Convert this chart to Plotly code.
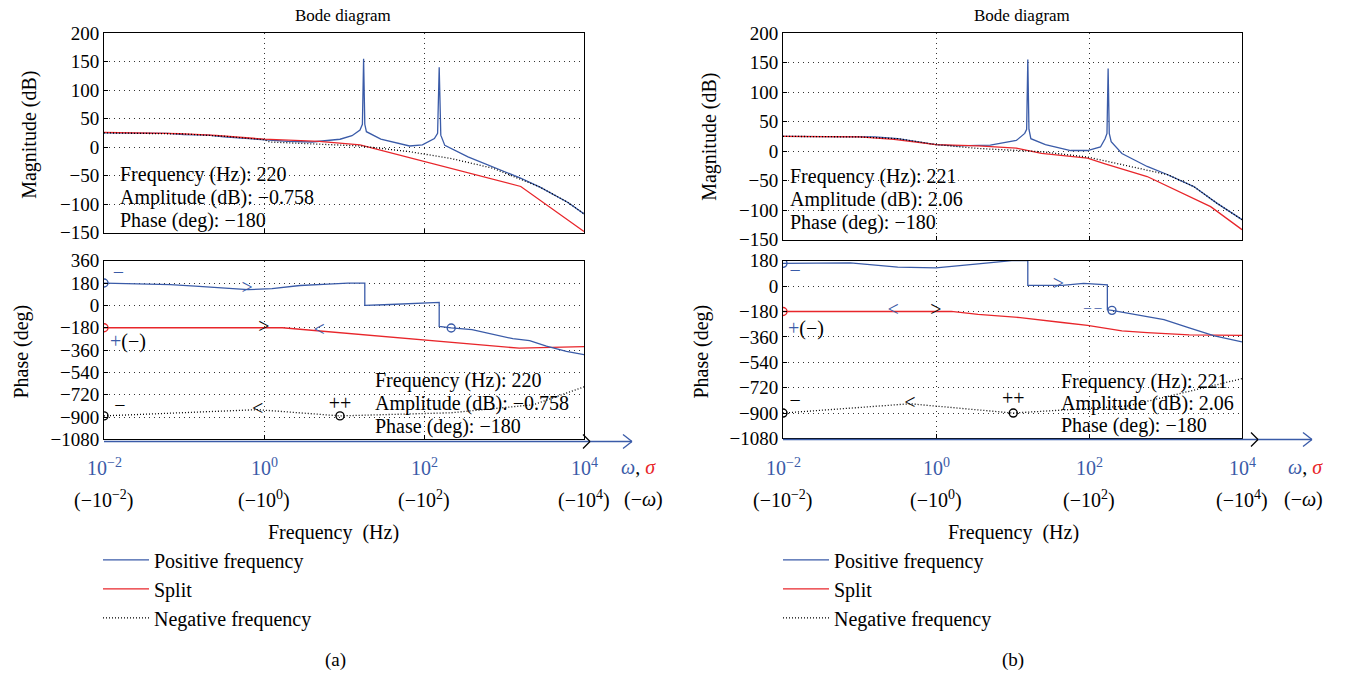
import plotly.graph_objects as go

W, H = 1348, 673
BLUE = "#3a5ba8"
RED = "#e8262b"
FONT = "Liberation Serif"

# ---------------- data (log10 of frequency, values) ----------------
# panel (a) magnitude
a_mag_pos_lf = [-2, -1.5, -1.2, -1.0, -0.7, -0.5, -0.2, 0, 0.3, 0.6, 0.95, 1.1, 1.2, 1.23, 1.245, 1.26, 1.28,
                1.46, 1.62, 1.82, 1.98, 2.13, 2.17, 2.19, 2.21, 2.26, 2.55, 2.85, 3.2, 3.45, 3.8, 4.0]
a_mag_pos = [25, 25, 24, 22, 21, 18, 15, 13, 10, 9, 13.8, 20, 30, 40, 155, 40, 27,
             14, 9, 2, 4, 15, 24, 140, 21, 3, -17, -34, -54, -70, -97, -117]
a_mag_split_lf = [-2, -1.06, -0.6, 0, 0.69, 1.2, 3.21, 4.0]
a_mag_split = [26, 23.6, 20.7, 14, 10, 4, -69, -148]
a_mag_neg_lf = [-2, -1.0, -0.5, 0, 0.07, 0.8, 1.2, 1.82, 2.34, 2.86, 3.16, 3.45, 3.8, 4.0]
a_mag_neg = [25, 23, 19, 13, 9, 4.6, 2, -8, -20, -37, -54, -70, -97, -117]

# panel (a) phase
a_ph_pos_lf = [-2, -1.5, -1.17, -0.86, -0.5, -0.2, 0.1, 0.45, 0.8, 1.05, 1.26, 1.26, 1.5, 1.8, 2.0, 2.19, 2.19,
               2.34, 2.6, 2.86, 3.11, 3.32, 3.53, 3.78, 4.0]
a_ph_pos = [180, 172, 167, 155, 140, 127, 135, 160, 172, 180, 180, 0, 5, 14, 22, 24, -169,
            -182, -196, -230, -268, -284, -329, -370, -396]
a_ph_split_lf = [-2, 0.23, 3.19, 4.0]
a_ph_split = [-180, -180, -345, -332]
a_ph_neg_lf = [-2, -0.08, 0.95, 2.34, 3.37, 4.0]
a_ph_neg = [-890, -840, -890, -865, -800, -656]

# panel (b) magnitude
b_mag_pos_lf = [-2, -1.2, -0.8, -0.5, 0, 0.27, 0.71, 1.05, 1.16, 1.185, 1.2, 1.215, 1.24, 1.43, 1.76, 1.98,
                2.15, 2.21, 2.235, 2.25, 2.265, 2.29, 2.43, 2.76, 3.03, 3.37, 3.67, 4.0]
b_mag_pos = [25, 25, 24, 21, 11, 9, 10, 18, 30, 37, 155, 37, 21, 11, 1, 1,
             7, 21, 30, 140, 30, 16, -4, -26, -40, -60, -88, -116]
b_mag_split_lf = [-2, -1.0, -0.55, 0, 0.55, 1.05, 1.38, 1.98, 2.2, 2.76, 3.59, 4.0]
b_mag_split = [25, 24, 20, 11, 9, 5, -4, -12, -21, -43, -94, -133]
b_mag_neg_lf = [-2, -1.0, -0.5, 0, 0.55, 1.38, 1.98, 2.76, 3.03, 3.37, 3.67, 4.0]
b_mag_neg = [25, 24, 21, 11, 4.5, -1, -10, -32, -40, -60, -88, -116]

# panel (b) phase
b_ph_pos_lf = [-2, -1.12, -0.5, 0, 0.55, 0.99, 1.2, 1.2, 1.65, 1.93, 2.24, 2.24, 2.3, 2.76, 2.98, 3.31, 3.64, 4.0]
b_ph_pos = [161, 164, 134, 129, 157, 180, 180, 6, 5, 19, 8, -168, -172, -214, -237, -296, -353, -395]
b_ph_split_lf = [-2, 0.2, 0.55, 1.1, 1.65, 1.98, 2.43, 2.76, 3.31, 4.0]
b_ph_split = [-180, -180, -200, -223, -258, -278, -317, -330, -346, -350]
b_ph_neg_lf = [-2, -0.34, 1.01, 1.65, 2.5, 3.2, 4.0]
b_ph_neg = [-900, -834, -900, -880, -850, -760, -656]

# tick labels
mag_ticks = [200, 150, 100, 50, 0, -50, -100, -150]
a_ph_ticks = [360, 180, 0, -180, -360, -540, -720, -900, -1080]
b_ph_ticks = [180, 0, -180, -360, -540, -720, -900, -1080]
freq_exps = [-2, 0, 2, 4]
pos_freq_labels = ["10<sup>−2</sup>", "10<sup>0</sup>", "10<sup>2</sup>", "10<sup>4</sup>"]
neg_freq_labels = ["(−10<sup>−2</sup>)", "(−10<sup>0</sup>)", "(−10<sup>2</sup>)", "(−10<sup>4</sup>)"]
readout_a = ["Frequency (Hz): 220", "Amplitude (dB): −0.758", "Phase (deg): −180"]
readout_b = ["Frequency (Hz): 221", "Amplitude (dB): 2.06", "Phase (deg): −180"]


def f(lf):
    return [10 ** v for v in lf]


def px(x):
    return x / W


def py(y):
    # vertical placement calibrated against the rendered page
    return 1 - ((y - 8) / 0.97) / H


fig = go.Figure()

LW = 1.3
DOTS = "1px,2px"


def add_lines(xs, ys, xa, ya, color, dash, name, legend, show):
    fig.add_trace(go.Scatter(x=f(xs), y=ys, xaxis=xa, yaxis=ya, mode="lines",
                             line=dict(color=color, width=LW, dash=dash),
                             name=name, legend=legend, showlegend=show, hoverinfo="skip"))


# (a)
add_lines(a_mag_pos_lf, a_mag_pos, "x", "y", BLUE, "solid", "Positive frequency", "legend", True)
add_lines(a_mag_split_lf, a_mag_split, "x", "y", RED, "solid", "Split", "legend", True)
add_lines(a_mag_neg_lf, a_mag_neg, "x", "y", "black", DOTS, "Negative frequency", "legend", True)
add_lines(a_ph_neg_lf, a_ph_neg, "x2", "y2", "black", DOTS, "", "legend", False)
add_lines(a_ph_split_lf, a_ph_split, "x2", "y2", RED, "solid", "", "legend", False)
add_lines(a_ph_pos_lf, a_ph_pos, "x2", "y2", BLUE, "solid", "", "legend", False)
# (b)
add_lines(b_mag_pos_lf, b_mag_pos, "x3", "y3", BLUE, "solid", "Positive frequency", "legend2", True)
add_lines(b_mag_split_lf, b_mag_split, "x3", "y3", RED, "solid", "Split", "legend2", True)
add_lines(b_mag_neg_lf, b_mag_neg, "x3", "y3", "black", DOTS, "Negative frequency", "legend2", True)
add_lines(b_ph_neg_lf, b_ph_neg, "x4", "y4", "black", DOTS, "", "legend2", False)
add_lines(b_ph_split_lf, b_ph_split, "x4", "y4", RED, "solid", "", "legend2", False)
add_lines(b_ph_pos_lf, b_ph_pos, "x4", "y4", BLUE, "solid", "", "legend2", False)


def circle(lf, v, xa, ya, color):
    fig.add_trace(go.Scatter(x=[10 ** lf], y=[v], xaxis=xa, yaxis=ya, mode="markers",
                             marker=dict(symbol="circle-open", size=8, color=color, line=dict(width=1.4)),
                             showlegend=False, hoverinfo="skip"))


def mark(lf, v, xa, ya, text, color, size=20):
    fig.add_trace(go.Scatter(x=[10 ** lf], y=[v], xaxis=xa, yaxis=ya, mode="text", text=[text],
                             textfont=dict(family=FONT, size=size, color=color),
                             showlegend=False, hoverinfo="skip"))


# markers panel (a)
circle(-2, 180, "x2", "y2", BLUE)
circle(-2, -180, "x2", "y2", RED)
circle(2.34, -182, "x2", "y2", BLUE)
circle(-2, -890, "x2", "y2", "black")
circle(0.95, -890, "x2", "y2", "black")
mark(-0.21, 128, "x2", "y2", ">", BLUE)
mark(0.0, -180, "x2", "y2", ">", "black")
mark(0.69, -204, "x2", "y2", "<", BLUE)
mark(-0.08, -842, "x2", "y2", "<", "black")
mark(-1.82, 250, "x2", "y2", "−", BLUE)
mark(-1.8, -815, "x2", "y2", "−", "black")
mark(0.95, -805, "x2", "y2", "++", "black")

# markers panel (b)
circle(-2, 161, "x4", "y4", BLUE)
circle(-2, -180, "x4", "y4", RED)
circle(2.3, -172, "x4", "y4", BLUE)
circle(-2, -900, "x4", "y4", "black")
circle(1.01, -900, "x4", "y4", "black")
mark(1.6, 8, "x4", "y4", ">", BLUE)
mark(-0.56, -180, "x4", "y4", "<", BLUE)
mark(0.0, -180, "x4", "y4", ">", "black")
mark(-0.34, -834, "x4", "y4", "<", "black")
mark(-1.84, 100, "x4", "y4", "−", BLUE)
mark(-1.84, -820, "x4", "y4", "−", "black")
mark(1.01, -805, "x4", "y4", "++", "black")
mark(2.05, -160, "x4", "y4", "– –", BLUE, 14)

# ---------------- axes ----------------
axis_common = dict(showline=True, linecolor="black", linewidth=1, mirror=True, ticks="inside", ticklen=4,
                   tickcolor="black", showgrid=True, gridcolor="#333", griddash="1px,4px", gridwidth=1,
                   zeroline=False, tickfont=dict(family=FONT, size=19, color="black"))

xa_dom = [px(104), px(584)]
xb_dom = [px(783), px(1242)]


def xaxis(dom, anchor):
    return dict(type="log", range=[-2, 4], domain=dom, anchor=anchor, tickvals=f(freq_exps),
                showticklabels=False, **axis_common)


def yaxis(dom, rng, ticks, anchor):
    return dict(range=rng, domain=dom, anchor=anchor, tickvals=ticks, **axis_common)


fig.update_layout(
    xaxis=xaxis(xa_dom, "y"),
    yaxis=yaxis([py(231), py(31)], [-150, 200], mag_ticks, "x"),
    xaxis2=xaxis(xa_dom, "y2"),
    yaxis2=yaxis([py(438), py(259)], [-1080, 360], a_ph_ticks, "x2"),
    xaxis3=xaxis(xb_dom, "y3"),
    yaxis3=yaxis([py(238), py(31)], [-150, 200], mag_ticks, "x3"),
    xaxis4=xaxis(xb_dom, "y4"),
    yaxis4=yaxis([py(437), py(259)], [-1080, 180], b_ph_ticks, "x4"),
)

legend_style = dict(font=dict(family=FONT, size=20, color="black"), bgcolor="rgba(0,0,0,0)",
                    xanchor="left", yanchor="top", tracegroupgap=0, itemwidth=46)
fig.update_layout(
    legend=dict(x=px(98), y=py(539), **legend_style),
    legend2=dict(x=px(778), y=py(539), **legend_style),
)

ann = []


def text(x, y, t, size=20, color="black", xanchor="center", angle=0, align="center", xref="paper", yref="paper"):
    ann.append(dict(x=x, y=y, xref=xref, yref=yref, text=t, showarrow=False, xanchor=xanchor,
                    yanchor="middle", textangle=angle, align=align,
                    font=dict(family=FONT, size=size, color=color)))


# titles and axis titles
text(px(343), py(14), "Bode diagram", 17)
text(px(1022), py(14), "Bode diagram", 17)
text(px(30), py(133), "Magnitude (dB)", 20, angle=-90)
text(px(710), py(135), "Magnitude (dB)", 20, angle=-90)
text(px(22), py(350), "Phase (deg)", 20, angle=-90)
text(px(702), py(350), "Phase (deg)", 20, angle=-90)
text(px(333), py(531), "Frequency  (Hz)", 20)
text(px(1013), py(531), "Frequency  (Hz)", 20)
text(px(335), py(659), "(a)", 19)
text(px(1013), py(659), "(b)", 19)

# readouts (one annotation per line)
for line, yy in zip(readout_a, [173, 196, 219]):
    text(px(118), py(yy), line, 20, xanchor="left")
for line, yy in zip(readout_a, [379, 402, 425]):
    text(px(373), py(yy), line, 20, xanchor="left")
for line, yy in zip(readout_b, [175, 198, 221]):
    text(px(788), py(yy), line, 20, xanchor="left")
for line, yy in zip(readout_b, [380, 402, 424]):
    text(px(1059), py(yy), line, 20, xanchor="left")

# frequency tick labels
for xr in ["x2", "x4"]:
    for e, pl, nl in zip(freq_exps, pos_freq_labels, neg_freq_labels):
        text(e, py(466), pl, 20, BLUE, xref=xr)
        text(e, py(498), nl, 20, "black", xref=xr)

wsig = "<i><span style='color:%s'>ω</span></i>, <i><span style='color:%s'>σ</span></i>" % (BLUE, RED)
text(px(638), py(466), wsig, 20)
text(px(1305), py(466), wsig, 20)
text(px(643), py(498), "(−<i>ω</i>)", 20)
text(px(1303), py(498), "(−<i>ω</i>)", 20)

# +(-) labels
text(px(108), py(340), "<span style='color:%s'>+</span>(−)" % BLUE, 20, xanchor="left")
text(px(786), py(327), "<span style='color:%s'>+</span>(−)" % BLUE, 20, xanchor="left")

fig.update_layout(annotations=ann)

# axis arrows (shapes, paper coords)
shapes = []


def seg(x0, y0, x1, y1, color, w=1.3):
    shapes.append(dict(type="line", xref="paper", yref="paper", x0=px(x0), y0=py(y0), x1=px(x1), y1=py(y1),
                       line=dict(color=color, width=w)))


for (x0, x1, xb, yy) in [(104, 632, 590, 440), (783, 1312, 1258, 438)]:
    seg(x0, yy, x1, yy, BLUE, 1.5)
    seg(x1 - 9, yy - 7, x1, yy, BLUE)
    seg(x1 - 9, yy + 7, x1, yy, BLUE)
    seg(xb - 7, yy - 7, xb, yy, "black")
    seg(xb - 7, yy + 7, xb, yy, "black")

fig.update_layout(shapes=shapes)

fig.update_layout(width=W, height=H, margin=dict(l=0, r=0, t=0, b=0), plot_bgcolor="white",
                  paper_bgcolor="white", font=dict(family=FONT, size=18, color="black"))

fig.write_html("out.html", config={"displayModeBar": False},
               post_script="document.body.style.margin='0px';document.body.style.overflow='hidden';")
